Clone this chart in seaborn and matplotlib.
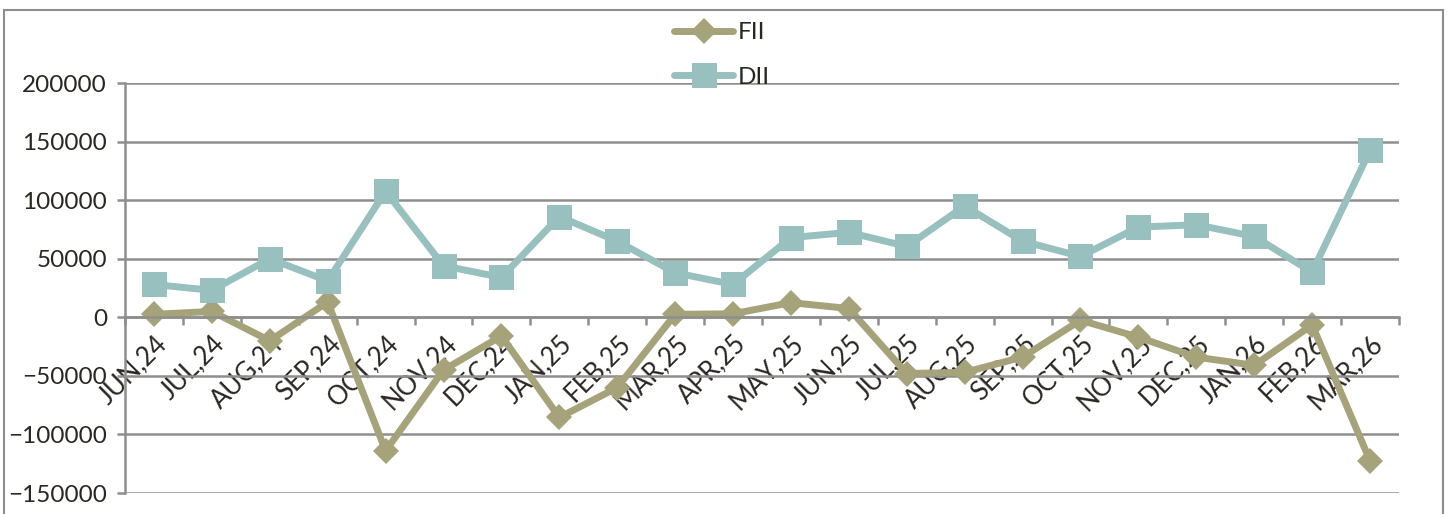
import seaborn as sns
import matplotlib.pyplot as plt
import matplotlib.patches as mpatches
from matplotlib.transforms import ScaledTranslation
import pandas as pd
import numpy as np

# -----------------------------
# Data
# -----------------------------
months = ["JUN,24", "JUL,24", "AUG,24", "SEP,24", "OCT,24", "NOV,24", "DEC,24",
          "JAN,25", "FEB,25", "MAR,25", "APR,25", "MAY,25", "JUN,25", "JUL,25",
          "AUG,25", "SEP,25", "OCT,25", "NOV,25", "DEC,25", "JAN,26", "FEB,26",
          "MAR,26"]
fii = [2500, 5000, -20000, 13000, -114000, -45000, -16000, -85500, -60000,
       2500, 3000, 12500, 7500, -48000, -47000, -34000, -2500, -17000,
       -34000, -41000, -6500, -122500]
dii = [28000, 23000, 50000, 31000, 107500, 44000, 34000, 86000, 65000,
       38000, 28000, 68000, 72500, 60500, 95000, 65000, 52000, 77000,
       79000, 69000, 38500, 142500]

df = pd.DataFrame({"month": months, "FII": fii, "DII": dii})

# -----------------------------
# Style
# -----------------------------
sns.set_style("white")
plt.rcParams["font.family"] = ["Lato", "DejaVu Sans"]
text_c = "#2a2722"
grid_c = "#8e8e8e"
fii_c = "#a6a37a"
dii_c = "#97c0be"

fig = plt.figure(figsize=(14.5, 5.14), dpi=100)
ax = fig.add_axes([125 / 1450, 1 - 493 / 514, (1399 - 125) / 1450, (493 - 83) / 514])

sns.lineplot(data=df, x="month", y="FII", ax=ax, color=fii_c, linewidth=5,
             marker="D", markersize=13.5, markeredgewidth=0, sort=False,
             estimator=None, label="FII")
sns.lineplot(data=df, x="month", y="DII", ax=ax, color=dii_c, linewidth=5,
             marker="s", markersize=18, markeredgewidth=0, sort=False,
             estimator=None, label="DII")

# -----------------------------
# Axes
# -----------------------------
ax.set_ylim(-150000, 200000)
ax.set_xlim(-0.5, len(months) - 0.5)
ax.set_yticks(np.arange(-150000, 200001, 50000))
ax.yaxis.grid(True, color=grid_c, linewidth=1.8)
ax.set_axisbelow(True)
ax.set_xlabel("")
ax.set_ylabel("")

for s in ["top", "right"]:
    ax.spines[s].set_visible(False)
ax.spines["left"].set_color(grid_c)
ax.spines["left"].set_linewidth(1.8)
ax.spines["bottom"].set_position(("data", 0))
ax.spines["bottom"].set_color(grid_c)
ax.spines["bottom"].set_linewidth(1.8)

ax.tick_params(axis="y", direction="out", length=6, width=1.8, color=grid_c,
               labelsize=17.5, labelcolor=text_c, pad=7, left=True)
ax.set_xticks(np.arange(-0.5, len(months), 1), minor=True)
ax.tick_params(axis="x", which="minor", direction="out", length=6, width=1.8,
               color=grid_c, bottom=True)
ax.tick_params(axis="x", which="major", length=0, labelsize=18.5,
               labelcolor=text_c, pad=16)
shift = ScaledTranslation(9 / 100, 0, fig.dpi_scale_trans)
for lbl in ax.get_xticklabels():
    lbl.set_rotation(45)
    lbl.set_ha("right")
    lbl.set_va("center")
    lbl.set_rotation_mode("anchor")
    lbl.set_transform(lbl.get_transform() + shift)

# -----------------------------
# Legend and outer frame
# -----------------------------
ax.legend_.remove()
handles, labels = ax.get_legend_handles_labels()
fig.legend(handles, labels, loc="center", bbox_to_anchor=(0.498, 0.893),
           frameon=False, fontsize=17.5, handlelength=2.4, labelspacing=0.95,
           handletextpad=0.2, labelcolor=text_c)

fig.patches.append(mpatches.Rectangle((4 / 1450, -0.05), (1443 - 4) / 1450,
                                      1 - 10 / 514 + 0.05, fill=False,
                                      edgecolor=grid_c, linewidth=1.5,
                                      transform=fig.transFigure, figure=fig))

plt.savefig("out.png", dpi=100)
plt.close()
